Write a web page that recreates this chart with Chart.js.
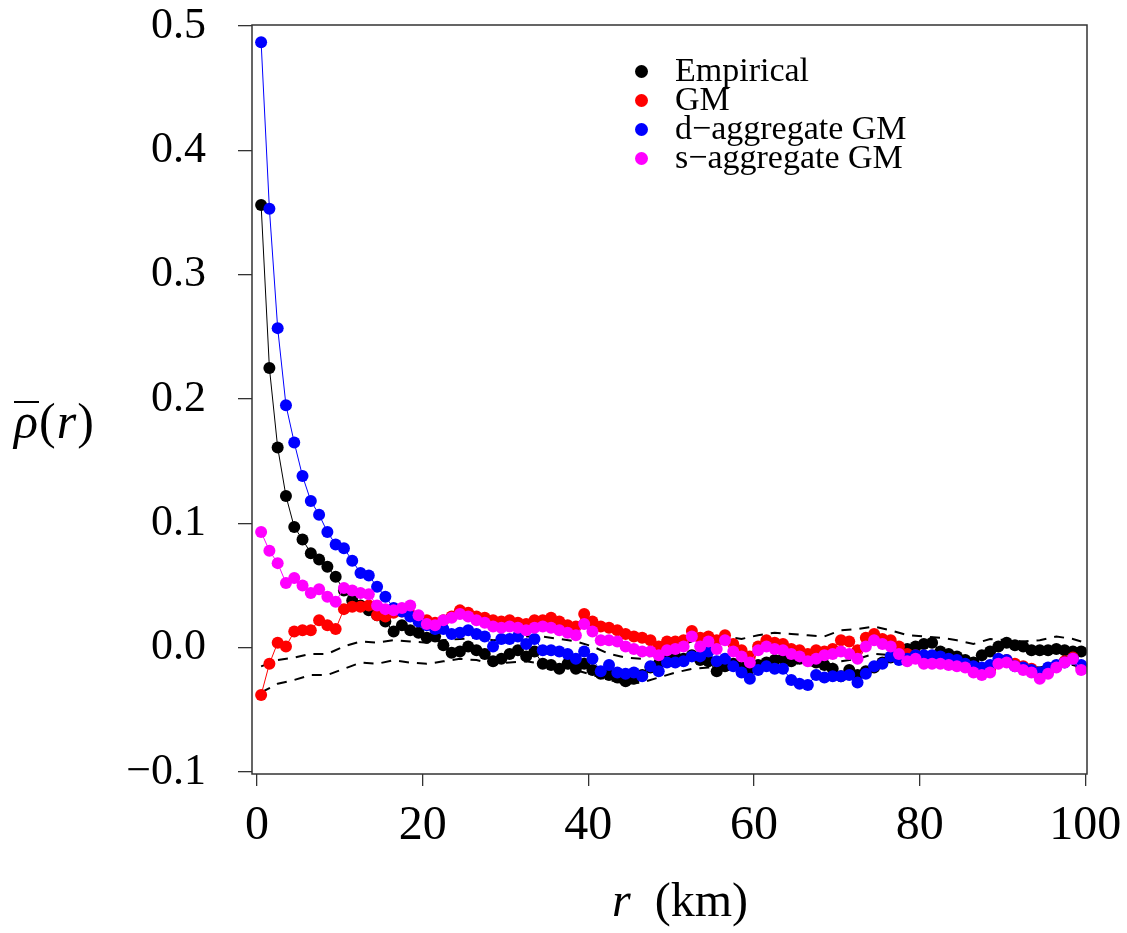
<!DOCTYPE html>
<html>
<head>
<meta charset="utf-8">
<script src="https://cdn.jsdelivr.net/npm/chart.js@4.4.1/dist/chart.umd.min.js"></script>
<style>
  body { margin: 0; background: #fff; }
  #wrap { position: relative; width: 1127px; height: 933px; font-family: 'Liberation Serif', 'DejaVu Serif', serif; }
  #legend { position: absolute; left: 635px; top: 55px; font-size: 34px; line-height: 29px; color: #000; }
  #legend div { white-space: nowrap; }
  #legend span.dot { display: inline-block; width: 13px; height: 13px; border-radius: 50%; margin-right: 27px; vertical-align: 3px; }
  #ytitle { position: absolute; left: 14px; top: 392px; font-size: 50px; letter-spacing: 1px; }
  #ytitle .bar { display: inline-block; border-top: 2px solid #000; line-height: 0.62; padding-top: 3px; }
  #xtitle { position: absolute; left: 612px; top: 872px; font-size: 48px; }
</style>
</head>
<body>
<div id="wrap">
  <canvas id="rhoChart" width="1127" height="933"></canvas>
  <div id="legend"></div>
  <div id="ytitle"><i class="bar">ρ</i>(<i>r</i>)</div>
  <div id="xtitle"><i>r</i>&nbsp;&nbsp;(km)</div>
</div>
<script>
// distances (km)
var r = [
  0.5, 1.5, 2.5, 3.5, 4.5, 5.5, 6.5, 7.5, 8.5, 9.5,
  10.5, 11.5, 12.5, 13.5, 14.5, 15.5, 16.5, 17.5, 18.5, 19.5,
  20.5, 21.5, 22.5, 23.5, 24.5, 25.5, 26.5, 27.5, 28.5, 29.5,
  30.5, 31.5, 32.5, 33.5, 34.5, 35.5, 36.5, 37.5, 38.5, 39.5,
  40.5, 41.5, 42.5, 43.5, 44.5, 45.5, 46.5, 47.5, 48.5, 49.5,
  50.5, 51.5, 52.5, 53.5, 54.5, 55.5, 56.5, 57.5, 58.5, 59.5,
  60.5, 61.5, 62.5, 63.5, 64.5, 65.5, 66.5, 67.5, 68.5, 69.5,
  70.5, 71.5, 72.5, 73.5, 74.5, 75.5, 76.5, 77.5, 78.5, 79.5,
  80.5, 81.5, 82.5, 83.5, 84.5, 85.5, 86.5, 87.5, 88.5, 89.5,
  90.5, 91.5, 92.5, 93.5, 94.5, 95.5, 96.5, 97.5, 98.5, 99.5
];

var empirical = [
  0.356, 0.225, 0.161, 0.122, 0.097, 0.087, 0.076, 0.071, 0.065, 0.057,
  0.046, 0.038, 0.034, 0.030, 0.026, 0.021, 0.013, 0.018, 0.014, 0.012,
  0.008, 0.009, 0.002, -0.004, -0.003, 0.001, -0.002, -0.005, -0.011, -0.009,
  -0.005, -0.002, -0.007, -0.003, -0.013, -0.014, -0.017, -0.013, -0.017, -0.013,
  -0.018, -0.021, -0.022, -0.024, -0.027, -0.025, -0.022, -0.016, -0.013, -0.008,
  -0.007, -0.009, -0.006, -0.010, -0.011, -0.019, -0.015, -0.013, -0.016, -0.017,
  -0.014, -0.012, -0.010, -0.009, -0.011, -0.009, -0.010, -0.012, -0.014, -0.017,
  -0.023, -0.018, -0.022, -0.019, -0.016, -0.012, -0.008, -0.005, -0.001, 0.001,
  0.003, 0.004, -0.003, -0.005, -0.007, -0.010, -0.012, -0.006, -0.003, 0.001,
  0.004, 0.002, 0.001, -0.002, -0.002, -0.002, -0.001, -0.002, -0.003, -0.003
];

var gm = [
  -0.038, -0.013, 0.004, 0.001, 0.013, 0.014, 0.014, 0.022, 0.018, 0.015,
  0.031, 0.033, 0.033, 0.034, 0.026, 0.025, 0.028, 0.029, 0.027, 0.025,
  0.022, 0.020, 0.022, 0.025, 0.030, 0.028, 0.025, 0.024, 0.022, 0.021,
  0.022, 0.020, 0.019, 0.022, 0.022, 0.024, 0.021, 0.018, 0.017, 0.027,
  0.021, 0.017, 0.016, 0.014, 0.011, 0.009, 0.008, 0.006, 0.001, 0.005,
  0.005, 0.006, 0.0135, 0.008, 0.009, 0.006, 0.010, 0.003, -0.002, -0.007,
  0.001, 0.006, 0.004, 0.003, -0.001, -0.002, -0.005, -0.002, -0.003, -0.001,
  0.006, 0.005, -0.002, 0.008, 0.011, 0.007, 0.006, 0.001, -0.005, -0.006,
  -0.009, -0.010, -0.011, -0.012, -0.013, -0.014, -0.017, -0.020, -0.018, -0.012,
  -0.010, -0.013, -0.015, -0.017, -0.022, -0.019, -0.015, -0.011, -0.008, -0.015
];

var dAggGM = [
  0.487, 0.353, 0.257, 0.195, 0.165, 0.138, 0.118, 0.107, 0.093, 0.083,
  0.080, 0.070, 0.060, 0.058, 0.049, 0.041, 0.032, 0.029, 0.025, 0.021,
  0.018, 0.015, 0.015, 0.011, 0.012, 0.014, 0.011, 0.009, 0.001, 0.007,
  0.007, 0.009, 0.003, 0.007, -0.002, -0.002, -0.003, -0.005, -0.009, -0.003,
  -0.009, -0.019, -0.014, -0.020, -0.021, -0.020, -0.023, -0.015, -0.019, -0.012,
  -0.012, -0.011, -0.007, -0.007, -0.003, -0.011, -0.009, -0.015, -0.020, -0.025,
  -0.018, -0.015, -0.017, -0.017, -0.026, -0.029, -0.030, -0.022, -0.024, -0.023,
  -0.023, -0.022, -0.028, -0.021, -0.015, -0.013, -0.007, -0.010, -0.009, -0.006,
  -0.006, -0.006, -0.007, -0.009, -0.010, -0.013, -0.015, -0.016, -0.014, -0.009,
  -0.010, -0.015, -0.016, -0.018, -0.020, -0.016, -0.014, -0.012, -0.009, -0.014
];

var sAggGM = [
  0.093, 0.078, 0.068, 0.052, 0.056, 0.050, 0.044, 0.047, 0.041, 0.037,
  0.048, 0.046, 0.044, 0.043, 0.034, 0.031, 0.030, 0.032, 0.034, 0.026,
  0.019, 0.018, 0.022, 0.024, 0.027, 0.025, 0.022, 0.020, 0.017, 0.016,
  0.017, 0.016, 0.014, 0.016, 0.017, 0.016, 0.014, 0.012, 0.010, 0.019,
  0.013, 0.006, 0.006, 0.005, 0.001, -0.001, -0.003, -0.003, -0.006, -0.002,
  -0.001, 0.001, 0.009, 0.001, 0.005, -0.001, 0.006, -0.003, -0.007, -0.012,
  -0.002, 0.001, -0.001, -0.002, -0.005, -0.007, -0.011, -0.009, -0.006, -0.005,
  -0.003, -0.005, -0.009, 0.001, 0.006, 0.003, 0.001, -0.005, -0.011, -0.009,
  -0.013, -0.013, -0.013, -0.014, -0.015, -0.016, -0.020, -0.022, -0.020, -0.013,
  -0.012, -0.015, -0.018, -0.020, -0.025, -0.021, -0.016, -0.012, -0.009, -0.018
];

// envelope (dashed), every 2 km
var rEnv = [
  0.5, 2.5, 4.5, 6.5, 8.5, 10.5, 12.5, 14.5, 16.5, 18.5,
  20.5, 22.5, 24.5, 26.5, 28.5, 30.5, 32.5, 34.5, 36.5, 38.5,
  40.5, 42.5, 44.5, 46.5, 48.5, 50.5, 52.5, 54.5, 56.5, 58.5,
  60.5, 62.5, 64.5, 66.5, 68.5, 70.5, 72.5, 74.5, 76.5, 78.5,
  80.5, 82.5, 84.5, 86.5, 88.5, 90.5, 92.5, 94.5, 96.5, 98.5, 99.5
];
var envUpper = [
  -0.015, -0.010, -0.008, -0.005, -0.005, 0.001, 0.005, 0.004, 0.006, 0.005,
  0.004, 0.006, 0.007, 0.008, 0.006, 0.007, 0.009, 0.009, 0.007, 0.005,
  0.001, -0.005, -0.008, -0.009, -0.004, 0.001, 0.005, 0.007, 0.009, 0.007,
  0.010, 0.012, 0.011, 0.010, 0.009, 0.014, 0.015, 0.017, 0.014, 0.010,
  0.009, 0.008, 0.006, 0.003, 0.007, 0.006, 0.005, 0.006, 0.009, 0.007, 0.005
];
var envLower = [
  -0.036, -0.029, -0.026, -0.022, -0.022, -0.017, -0.012, -0.013, -0.010, -0.012,
  -0.013, -0.011, -0.009, -0.010, -0.013, -0.012, -0.011, -0.013, -0.015, -0.018,
  -0.022, -0.026, -0.029, -0.028, -0.024, -0.020, -0.017, -0.016, -0.015, -0.017,
  -0.014, -0.011, -0.012, -0.014, -0.015, -0.011, -0.009, -0.005, -0.006, -0.010,
  -0.012, -0.013, -0.015, -0.018, -0.015, -0.014, -0.015, -0.016, -0.013, -0.014, -0.016
];

var xTicks = [0, 20, 40, 60, 80, 100];
var yTicks = [-0.1, 0.0, 0.1, 0.2, 0.3, 0.4, 0.5];

var seriesNames = ["Empirical", "GM", "d\u2212aggregate GM", "s\u2212aggregate GM"];
var seriesColors = ["#000000", "#ff0000", "#0000ff", "#ff00ff"];

function pts(xs, ys) {
  return xs.map(function (x, i) { return { x: x, y: ys[i] }; });
}

function series(idx, values) {
  return {
    label: seriesNames[idx],
    data: pts(r, values),
    showLine: true,
    borderColor: seriesColors[idx],
    backgroundColor: seriesColors[idx],
    borderWidth: 1,
    pointRadius: 6,
    pointBorderWidth: 0,
    pointHoverRadius: 6
  };
}

function envelope(values) {
  return {
    label: "envelope",
    data: pts(rEnv, values),
    showLine: true,
    borderColor: "#000",
    borderWidth: 2,
    borderDash: [10, 8],
    pointRadius: 0,
    fill: false
  };
}

// html legend
var legendBox = document.getElementById('legend');
seriesNames.forEach(function (name, i) {
  var row = document.createElement('div');
  row.innerHTML = '<span class="dot" style="background:' + seriesColors[i] + '"></span>' + name;
  legendBox.appendChild(row);
});

var boxPlugin = {
  id: 'box',
  afterDraw: function (chart) {
    var a = chart.chartArea, c = chart.ctx;
    c.save();
    c.strokeStyle = '#333';
    c.lineWidth = 1.5;
    c.strokeRect(a.left, a.top, a.right - a.left, a.bottom - a.top);
    c.restore();
  }
};

var ctx = document.getElementById('rhoChart').getContext('2d');
var myChart = new Chart(ctx, {
  type: 'scatter',
  data: {
    datasets: [
      series(3, sAggGM),
      series(2, dAggGM),
      series(1, gm),
      series(0, empirical),
      envelope(envUpper),
      envelope(envLower)
    ]
  },
  options: {
    responsive: false,
    animation: false,
    layout: { padding: { top: 25, right: 40, left: 0, bottom: 0 } },
    scales: {
      x: {
        type: 'linear',
        min: -0.6,
        max: 100.2,
        afterBuildTicks: function (scale) {
          scale.ticks = xTicks.map(function (v) { return { value: v }; });
        },
        afterFit: function (scale) {
          scale.height = 159;
          scale.paddingLeft = 0;
          scale.paddingRight = 0;
        },
        grid: { drawOnChartArea: false, drawTicks: true, tickLength: 12, color: '#333', lineWidth: 1.3 },
        border: { display: false },
        ticks: {
          font: { family: 'Liberation Serif', size: 48 },
          color: '#000',
          padding: 12,
          maxRotation: 0
        }
      },
      y: {
        type: 'linear',
        min: -0.1016,
        max: 0.5008,
        afterBuildTicks: function (scale) {
          scale.ticks = yTicks.map(function (v) { return { value: v }; });
        },
        afterFit: function (scale) {
          scale.width = 252;
          scale.paddingTop = 0;
          scale.paddingBottom = 0;
        },
        grid: { drawOnChartArea: false, drawTicks: true, tickLength: 14, color: '#333', lineWidth: 1.3 },
        border: { display: false },
        ticks: {
          font: { family: 'Liberation Serif', size: 44, lineHeight: 1 },
          color: '#000',
          padding: 32,
          callback: function (v) { return v < 0 ? '\u2212' + Math.abs(v).toFixed(1) : v.toFixed(1); }
        }
      }
    },
    plugins: {
      legend: { display: false },
      tooltip: { enabled: false }
    }
  },
  plugins: [boxPlugin]
});
</script>
</body>
</html>
